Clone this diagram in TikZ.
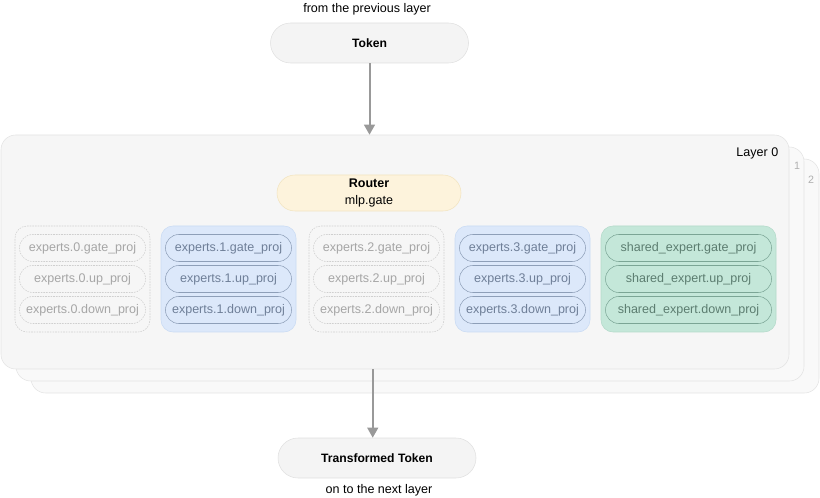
\documentclass[tikz,border=0pt]{standalone}
\usepackage{fontspec}
\setmainfont{Liberation Sans}
\usetikzlibrary{arrows.meta,positioning,calc}

\definecolor{lyfill}{HTML}{F6F6F6}
\definecolor{lyline}{HTML}{E3E3E3}
\definecolor{backfill}{HTML}{F9F9F9}
\definecolor{tokfill}{HTML}{F4F4F4}
\definecolor{tokline}{HTML}{E0E0E0}
\definecolor{rtfill}{HTML}{FDF3DC}
\definecolor{rtline}{HTML}{F2E4C0}
\definecolor{idline}{HTML}{CFCFCF}
\definecolor{idtext}{HTML}{A6A6A6}
\definecolor{actfill}{HTML}{DCE8FA}
\definecolor{actline}{HTML}{C9DBF4}
\definecolor{actpline}{HTML}{8E9FB8}
\definecolor{acttext}{HTML}{6F7F98}
\definecolor{shfill}{HTML}{C4E7D9}
\definecolor{shline}{HTML}{B3DACA}
\definecolor{shpline}{HTML}{7BA595}
\definecolor{shtext}{HTML}{5C7D70}
\definecolor{arrgray}{HTML}{999999}
\definecolor{numgray}{HTML}{B0B0B0}

\begin{document}
\begin{tikzpicture}[x=0.75pt, y=-0.75pt,
    layer/.style={draw=lyline, fill=lyfill, rounded corners=11pt, minimum width=591pt, minimum height=175.5pt, inner sep=0pt},
    tok/.style={draw=tokline, fill=tokfill, rounded corners=15pt, minimum width=148.5pt, minimum height=30pt, font=\fontsize{9.1}{11}\selectfont\bfseries},
    note/.style={font=\fontsize{9.4}{11}\selectfont},
    router/.style={draw=rtline, fill=rtfill, rounded corners=13.5pt, minimum width=138pt, minimum height=27pt, align=center, inner sep=1pt, font=\fontsize{9.4}{12.75}\selectfont},
    grp/.style={rounded corners=9pt, minimum width=101.25pt, minimum height=79.5pt},
    idlegrp/.style={grp, draw=idline, dash pattern=on 1.2pt off 0.8pt},
    actgrp/.style={grp, draw=actline, fill=actfill},
    shgrp/.style={grp, draw=shline, fill=shfill, minimum width=131.25pt},
    proj/.style={rounded corners=10pt, minimum width=94.5pt, minimum height=20.25pt, inner sep=1pt, font=\fontsize{9.4}{10}\selectfont},
    idleproj/.style={proj, draw=idline, dash pattern=on 1.2pt off 0.8pt, text=idtext},
    actproj/.style={proj, draw=actpline, text=acttext},
    shproj/.style={proj, draw=shpline, text=shtext, minimum width=124.5pt},
    arr/.style={-{Triangle[length=7.5pt, width=8pt]}, line width=1.5pt, draw=arrgray}
]
\useasboundingbox (0,0) rectangle (820,498);

% stacked layers, back to front
\node[layer, fill=backfill] (L2) at (425,276) {};
\node[layer, fill=backfill] (L1) at (410,264) {};
\node[layer] (L0) at (395,252) {};
\node[note, text=numgray, font=\fontsize{8}{10}\selectfont] (n1) at (797,166) {1};
\node[note, text=numgray, font=\fontsize{8}{10}\selectfont] (n2) at (811,180) {2};
\node[note, anchor=east] (lname) at (783,153) {Layer 0};

% in and out
\node[note] (prev) at (367,9) {from the previous layer};
\node[tok] (token) at (369.5,43) {Token};
\node[tok] (out) at (377,458) {Transformed Token};
\node[note] (next) at (379,490) {on to the next layer};

\node[router] (router) at (369,193) {\textbf{Router}\\mlp.gate};

% experts
\foreach \i/\x in {0/82.5, 2/376.5} {
  \node[idlegrp] (g\i) at (\x,279) {};
  \node[idleproj] (g\i gate) at (\x,248) {experts.\i.gate\_proj};
  \node[idleproj] (g\i up) at (\x,279) {experts.\i.up\_proj};
  \node[idleproj] (g\i down) at (\x,310) {experts.\i.down\_proj};
}
\foreach \i/\x in {1/228.5, 3/522.5} {
  \node[actgrp] (g\i) at (\x,279) {};
  \node[actproj] (g\i gate) at (\x,248) {experts.\i.gate\_proj};
  \node[actproj] (g\i up) at (\x,279) {experts.\i.up\_proj};
  \node[actproj] (g\i down) at (\x,310) {experts.\i.down\_proj};
}
\node[shgrp] (gs) at (688.5,279) {};
\node[shproj] (gsgate) at (688.5,248) {shared\_expert.gate\_proj};
\node[shproj] (gsup) at (688.5,279) {shared\_expert.up\_proj};
\node[shproj] (gsdown) at (688.5,310) {shared\_expert.down\_proj};

\draw[arr] (token.south) -- (token.south |- L0.north);
\draw[arr] ([xshift=-3.2pt]out.north |- L0.south) -- ([xshift=-3.2pt]out.north);
\end{tikzpicture}
\end{document}
